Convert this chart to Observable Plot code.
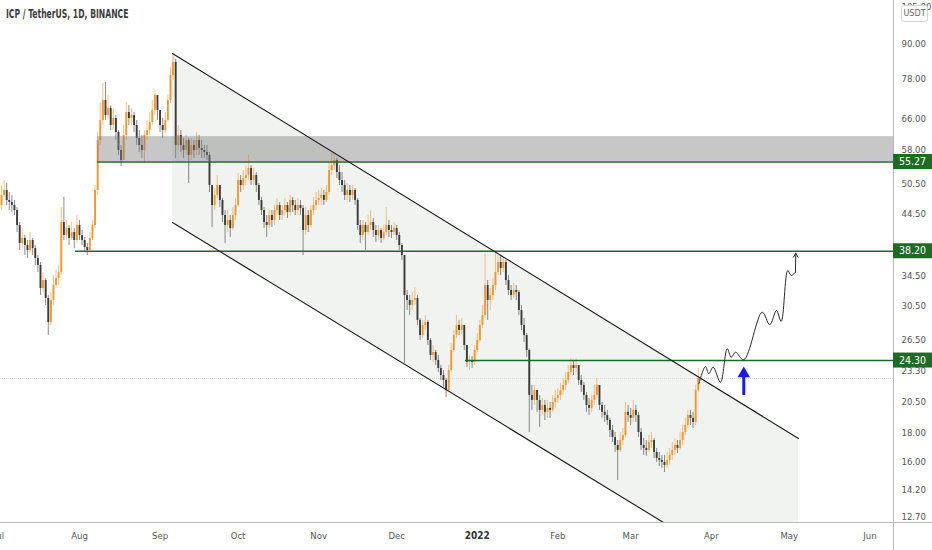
<!DOCTYPE html>
<html>
<head>
<meta charset="utf-8">
<script src="https://cdn.jsdelivr.net/npm/d3@7"></script>
<script src="https://cdn.jsdelivr.net/npm/@observablehq/plot@0.6"></script>
<style>
  body { margin: 0; background: #fff; }
  #wrap { position: relative; width: 932px; height: 550px; overflow: hidden; background: #fff; }
  #title { position: absolute; left: 6px; top: 7px; font: 600 11.5px "DejaVu Sans Condensed", "Roboto", sans-serif; color: #3c3c3c; transform: scaleX(0.74); transform-origin: 0 50%; white-space: nowrap; }
  #unit { position: absolute; left: 901px; top: 5px; width: 25px; height: 15px; border: 1px solid #d4d4d4; border-radius: 3px; background: #fff; font: 9px "DejaVu Sans Condensed", sans-serif; color: #666; text-align: center; line-height: 15px; }
</style>
</head>
<body>
<div id="wrap">
  <div id="title">ICP / TetherUS, 1D, BINANCE</div>
</div>
<script>
// ---- Daily candles ICP/USDT, starting 2021-07-01 (open of each day = previous close) ----
const startDate = [2021, 6, 1];
const firstOpen = 44.5;
const close = [
  // Jul
  46.16,48.12,49.13,47.13,46.74,46.16,45.22,42.50,39.45,40.28,39.12,38.32,39.94,38.64,37.07,36.01,32.74,33.84,31.41,28.45,31.16,33.15,34.13,34.99,43.03,40.78,41.98,40.28,41.29,39.94,42.50,
  // Aug
  40.78,39.94,38.80,38.32,40.28,42.50,49.13,60.41,65.64,71.30,67.00,68.97,64.29,66.18,62.45,57.97,55.62,61.68,67.84,66.18,67.00,64.29,60.92,59.18,57.97,61.68,62.97,65.09,68.41,72.79,68.41,
  // Sep
  64.29,62.97,65.64,71.30,79.07,83.44,59.18,61.68,59.18,57.97,60.41,56.79,59.18,57.97,60.41,58.46,57.97,57.49,56.79,50.15,46.16,48.12,50.15,47.13,44.29,42.50,43.39,41.98,44.29,46.16,
  // Oct
  51.20,50.15,51.63,52.27,53.81,51.20,52.27,50.15,47.13,45.22,43.03,42.50,44.29,43.39,45.22,46.16,44.29,45.22,46.16,44.85,47.13,46.16,45.22,46.16,45.59,41.63,44.29,42.50,45.22,46.16,47.13,
  // Nov
  47.53,48.12,47.13,48.72,53.36,54.48,55.62,52.92,51.20,50.15,48.12,49.13,48.12,49.13,47.13,42.50,40.78,42.50,41.29,42.50,43.03,41.63,40.78,41.63,40.28,41.29,42.50,41.63,41.29,41.98,
  // Dec
  40.78,39.12,37.53,31.80,31.16,30.52,31.16,31.41,28.69,26.95,28.10,28.45,26.40,24.81,25.12,24.31,23.51,22.84,22.37,21.47,23.32,25.33,26.95,28.10,27.52,28.10,25.86,24.11,24.31,24.11,25.33,
  // Jan
  26.40,28.10,29.28,33.15,31.16,31.80,33.15,34.99,36.46,35.57,36.46,33.84,32.47,31.80,32.47,32.20,29.89,28.10,26.95,25.33,21.03,20.60,21.47,20.60,19.77,20.18,19.61,19.93,19.77,20.43,20.77,
  // Feb
  21.03,21.47,21.92,22.37,23.13,23.81,23.51,23.81,22.37,21.92,21.03,20.18,19.93,20.60,21.03,21.92,20.18,19.61,19.36,18.96,18.19,17.67,17.10,16.75,17.45,17.82,19.61,19.36,
  // Mar
  19.13,19.77,19.36,18.04,17.10,16.89,16.75,17.31,17.45,16.61,16.20,16.07,15.94,15.74,16.07,16.41,16.75,17.10,16.89,17.45,18.04,18.57,19.36,19.13,18.81,21.47,22.56
];
const high = [
  48.12,50.15,51.20,50.57,48.72,48.12,47.13,45.78,43.03,41.98,40.78,39.94,41.29,40.28,39.12,37.53,36.46,34.99,34.13,31.80,32.20,34.56,35.28,36.01,45.78,47.73,43.39,42.50,43.03,41.98,44.29,
  43.39,41.63,40.44,39.45,41.29,43.39,50.15,62.45,70.42,76.50,76.80,72.79,69.84,68.97,67.00,62.97,59.18,64.29,70.71,69.84,68.97,67.84,65.64,62.97,61.68,62.97,65.64,67.84,71.30,74.31,72.79,
  68.41,66.18,67.84,72.79,81.73,86.60,84.50,64.29,62.97,60.92,61.68,60.92,60.92,60.41,62.45,61.68,60.41,59.18,59.18,57.49,50.15,49.53,52.27,50.15,47.53,45.22,45.22,44.29,45.78,47.53,
  52.71,52.27,53.36,54.48,56.79,54.48,53.81,52.92,50.57,47.73,45.78,44.29,45.22,45.22,46.16,47.53,46.74,46.16,47.53,46.74,48.12,47.73,47.13,47.53,47.13,46.16,45.78,45.22,46.16,47.73,48.72,
  49.13,49.53,49.13,50.15,54.93,57.26,57.26,56.09,54.48,52.92,51.20,50.57,50.15,50.15,49.53,47.53,43.39,43.39,43.03,44.29,45.22,43.75,42.50,42.50,41.98,42.50,45.78,43.39,42.50,43.03,
  42.50,41.29,39.45,37.53,32.47,31.80,32.20,32.88,31.80,28.92,28.69,29.28,28.69,26.62,25.86,25.33,24.81,23.81,23.32,22.56,23.81,26.08,27.52,29.28,28.69,28.92,28.10,25.86,24.81,24.71,25.86,
  27.18,28.69,30.52,37.84,33.84,32.74,34.13,37.84,37.53,37.53,37.07,36.77,34.56,33.15,33.43,33.15,32.47,30.52,28.92,27.18,25.50,21.92,21.92,21.47,21.03,20.77,20.60,20.60,20.43,21.03,21.47,
  21.65,22.10,22.56,23.13,23.81,24.51,24.31,24.51,23.81,22.84,22.19,21.29,20.77,21.03,21.92,22.56,21.92,20.43,20.18,19.77,19.13,18.57,18.04,17.45,18.04,18.34,20.43,20.18,
  19.93,20.60,20.18,19.61,18.34,17.60,17.45,17.82,18.04,17.60,16.89,16.61,16.41,16.41,16.61,16.89,17.31,17.60,17.45,18.04,18.57,19.13,19.77,19.77,19.61,21.92,23.51
];
const low = [
  42.50,45.22,47.73,46.16,45.22,44.85,44.29,41.29,38.32,38.64,37.53,37.07,37.84,37.53,36.01,34.99,31.80,32.20,30.52,26.95,28.10,30.52,32.74,33.15,34.56,39.94,39.94,39.12,39.94,38.64,39.45,
  39.94,39.12,38.00,37.53,38.00,39.94,41.98,48.12,59.18,64.29,65.64,65.64,62.97,62.97,60.41,56.79,54.25,55.62,60.41,64.29,64.29,62.45,59.18,57.49,56.09,54.93,60.41,61.68,64.29,67.00,65.64,
  62.45,60.92,62.20,65.09,70.42,77.45,56.09,57.97,57.49,56.09,56.79,50.57,55.62,56.09,56.79,56.79,56.09,56.09,55.62,48.72,42.15,45.22,47.53,45.78,43.03,39.45,41.29,40.44,41.63,43.39,
  45.78,48.72,49.13,50.15,51.20,50.15,50.15,48.72,46.16,44.29,41.98,40.44,41.98,42.15,42.50,44.29,43.39,43.39,44.29,43.75,44.29,44.85,44.29,44.29,44.29,37.53,40.78,41.29,41.98,44.29,45.22,
  46.16,46.16,46.16,46.74,48.12,52.27,53.36,51.63,50.15,48.72,47.13,47.13,46.74,47.13,46.16,41.63,39.45,39.94,38.32,40.78,41.63,40.44,39.61,39.94,39.45,39.94,40.78,40.44,40.28,40.78,
  39.94,38.32,36.77,24.01,29.89,29.28,29.89,30.52,28.10,26.40,26.62,27.52,25.86,24.31,24.11,23.81,23.13,22.37,21.74,20.85,21.29,23.13,25.12,26.62,26.95,26.95,25.33,23.61,23.32,23.51,23.81,
  25.12,26.18,27.75,28.92,28.69,29.89,31.16,32.47,34.56,34.56,34.99,33.15,31.80,31.16,31.41,31.16,29.28,27.52,26.18,24.61,18.04,19.77,20.18,19.61,18.42,19.36,18.96,19.13,19.13,19.61,19.93,
  20.35,20.60,21.03,21.47,22.10,22.84,22.84,23.13,21.92,21.29,20.60,19.61,19.36,19.61,20.18,20.77,19.77,19.13,18.81,18.57,17.67,17.31,16.61,14.79,16.61,17.10,17.67,18.81,
  18.57,18.81,18.81,17.67,16.75,16.41,16.35,16.61,16.89,16.20,15.94,15.68,15.55,15.29,15.55,15.74,16.07,16.41,16.55,16.75,17.10,17.82,18.34,18.57,18.34,18.57,21.29
];

// ---- Axis ticks ----
const yTicks = [105, 90, 78, 66, 58, 50.5, 44.5, 34.5, 30.5, 26.5, 23.3, 20.5, 18, 16, 14.2, 12.7];
const monthTicks = ["2021-07-01","2021-08-01","2021-09-01","2021-10-01","2021-11-01","2021-12-01","2022-02-01","2022-03-01","2022-04-01","2022-05-01","2022-06-01"];
const monthNames = ["Jul","Aug","Sep","Oct","Nov","Dec","Feb","Mar","Apr","May","Jun"];
const yearTick = ["2022-01-01"];
const yearName = ["2022"];

// ---- Drawings ----
const levels = [55.27, 38.20, 24.30];
const levelStarts = ["2021-08-07T22:00Z", "2021-07-30T12:00Z", "2021-12-27T12:00Z"];
const zoneStart = "2021-08-07T22:00Z";
const zoneLow = 55.27, zoneHigh = 61.4;
const channelDates = ["2021-09-05T18:30Z", "2022-03-13T15:00Z", "2022-05-04T13:00Z"];
const channelUpper = [86.6, 24.82, 17.60];
const channelLower = [43.03, 12.43, 12.43];
const pathDates = ["2022-03-27T05:00Z","2022-03-29T18:00Z","2022-03-31T01:00Z","2022-04-01T17:30Z","2022-04-04T13:00Z","2022-04-07T03:00Z","2022-04-08T16:00Z","2022-04-10T07:00Z","2022-04-13T12:00Z","2022-04-20T14:00Z","2022-04-23T12:00Z","2022-04-26T02:00Z","2022-04-27T21:00Z","2022-04-30T10:00Z","2022-05-01T17:30Z","2022-05-03T09:00Z"];
const pathPrices = [22.07, 23.71, 23.01, 23.64, 22.21, 25.52, 24.63, 25.15, 24.38, 29.68, 28.18, 29.89, 28.57, 35.28, 34.56, 35.03];
const pathTip = { date: "2022-05-03T12:00Z", price: 37.9 };
const blueArrow = { date: "2022-04-13T12:00Z", from: 21.03, to: 22.75 };

// ---- Build table ----
const candles = close.map((c, i) => ({
  date: new Date(Date.UTC(startDate[0], startDate[1], startDate[2] + i)),
  open: i === 0 ? firstOpen : close[i - 1],
  close: c, high: high[i], low: low[i]
}));
candles.forEach(d => d.up = d.close >= d.open);
const upCol = "#f5962a", downCol = "#3b3b3b";
const D = s => new Date(s);
const xDomain = [D("2021-07-01T15:00Z"), D("2022-06-10T02:00Z")];
const yDomain = [12.43, 107.85];

const channel = channelDates.map((d, i) => ({ date: D(d), hi: channelUpper[i], lo: channelLower[i] }));
const path = pathDates.map((d, i) => ({ date: D(d), price: pathPrices[i] }));
const last = path[path.length - 1];
const lvl = levels.map((v, i) => ({ v, start: D(levelStarts[i]), end: xDomain[1] }));
const font = '"DejaVu Sans Condensed", "Roboto", sans-serif';

const plot = Plot.plot({
  width: 932, height: 550,
  marginLeft: 0, marginRight: 39, marginTop: 0, marginBottom: 28,
  style: { fontFamily: font, fontSize: "10px", background: "#fff", overflow: "visible" },
  x: { type: "utc", domain: xDomain, axis: null },
  y: { type: "log", domain: yDomain, axis: null },
  marks: [
    Plot.areaY(channel, { x: "date", y1: "lo", y2: "hi", fill: "#e4eae4", fillOpacity: 0.55, curve: "linear" }),
    Plot.ruleY([close[close.length - 1]], { stroke: "#d8d8d8", strokeWidth: 1, strokeDasharray: "1,1" }),
    Plot.ruleX(candles, { x: "date", y1: "low", y2: "high", stroke: d => d.up ? upCol : downCol, strokeWidth: 0.9, strokeOpacity: 0.65 }),
    Plot.ruleX(candles, { x: "date", y1: "open", y2: "close", stroke: d => d.up ? upCol : downCol, strokeWidth: 1.9 }),
    Plot.rect([{ x1: D(zoneStart), x2: xDomain[1], y1: zoneLow, y2: zoneHigh }], { x1: "x1", x2: "x2", y1: "y1", y2: "y2", fill: "#7a7a7a", fillOpacity: 0.42 }),
    Plot.ruleY(lvl, { y: "v", x1: "start", x2: "end", stroke: "#1f6b25", strokeWidth: 1.4 }),
    Plot.line(channel, { x: "date", y: "hi", stroke: "#1a1a1a", strokeWidth: 1.1 }),
    Plot.line(channel.slice(0, 2), { x: "date", y: "lo", stroke: "#1a1a1a", strokeWidth: 1.1 }),
    Plot.line(path, { x: "date", y: "price", curve: "catmull-rom", stroke: "#2b2b2b", strokeWidth: 1 }),
    Plot.arrow([{ x1: last.date, y1: last.price, x2: D(pathTip.date), y2: pathTip.price }], { x1: "x1", y1: "y1", x2: "x2", y2: "y2", stroke: "#2b2b2b", strokeWidth: 1, headLength: 7, bend: 0 }),
    Plot.ruleX([blueArrow], { x: d => D(d.date), y1: "from", y2: "to", stroke: "#1b1be6", strokeWidth: 3 }),
    Plot.dot([blueArrow], { x: d => D(d.date), y: d => d.to * 1.012, symbol: "triangle", r: 4.6, fill: "#1b1be6", stroke: "none" }),
    Plot.text(yTicks, { y: d => d, frameAnchor: "right", dx: 8, textAnchor: "start", text: d => d.toFixed(2), fill: "#555", fontSize: 9.5 }),
    Plot.text(monthTicks, { x: d => D(d), frameAnchor: "bottom", dy: 16, text: (d, i) => monthNames[i], fill: "#555", fontSize: 9.5 }),
    Plot.text(yearTick, { x: d => D(d), frameAnchor: "bottom", dy: 16, text: (d, i) => yearName[i], fill: "#333", fontSize: 10, fontWeight: "bold" })
  ]
});

const svg = d3.select(plot);
const yS = plot.scale("y");
const xr = plot.scale("x").range;
const right = xr[1];
const ax = svg.append("g");
ax.append("line").attr("x1", right + 0.5).attr("x2", right + 0.5).attr("y1", 0).attr("y2", 550).attr("stroke", "#b9b9b9");
ax.append("line").attr("x1", 0).attr("x2", 932).attr("y1", 522.5).attr("y2", 522.5).attr("stroke", "#b9b9b9");
levels.forEach(v => {
  const y = yS.apply(v);
  ax.append("rect").attr("x", right).attr("y", y - 7.5).attr("width", 932 - right).attr("height", 15).attr("fill", "#1f6b25");
  ax.append("text").attr("x", right + (932 - right) / 2).attr("y", y).attr("dy", "0.35em").attr("text-anchor", "middle")
    .attr("fill", "#fff").attr("font-size", 10.5).attr("font-family", font).text(v.toFixed(2));
});

const wrap = document.getElementById("wrap");
wrap.insertBefore(plot, wrap.firstChild);
const unit = document.createElement("div");
unit.id = "unit"; unit.textContent = "USDT";
wrap.appendChild(unit);
</script>
</body>
</html>
